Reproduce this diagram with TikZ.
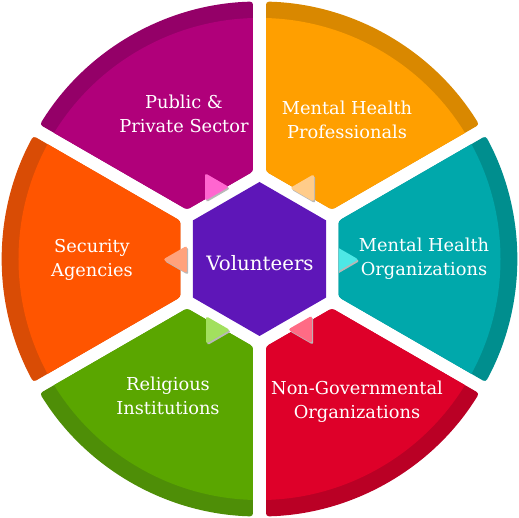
\documentclass[tikz,border=0pt]{standalone}
\usepackage{fontspec}
\setmainfont{DejaVu Serif}
\usetikzlibrary{calc}
\definecolor{pinkD}{HTML}{940068}\definecolor{pinkL}{HTML}{B0007A}
\definecolor{amberD}{HTML}{D98800}\definecolor{amberL}{HTML}{FF9F00}
\definecolor{tealD}{HTML}{008E8E}\definecolor{tealL}{HTML}{00A8AB}
\definecolor{redD}{HTML}{BA0025}\definecolor{redL}{HTML}{DE0029}
\definecolor{greenD}{HTML}{4E8E07}\definecolor{greenL}{HTML}{5AA600}
\definecolor{orangeD}{HTML}{D94C05}\definecolor{orangeL}{HTML}{FF5500}
\definecolor{hexC}{HTML}{5E16B8}
\definecolor{triPink}{HTML}{FF66D0}\definecolor{triAmber}{HTML}{FFCC8A}
\definecolor{triTeal}{HTML}{4EE8E6}\definecolor{triRed}{HTML}{FF6B85}
\definecolor{triGreen}{HTML}{A2E05E}\definecolor{triOrange}{HTML}{FFA27C}
\newcommand\segpart[3]{%
  \begin{scope}[rotate=#1]
    \begin{scope}
      \clip[rounded corners=3pt] (79,-38.1) -- (79,38.1) -- (28.55:257.5)
        arc[start angle=28.55,end angle=-28.55,radius=257.5] -- cycle;
      \fill[#2] (-300,-300) rectangle (300,300);
      \fill[#3] (0,0) circle (241);
    \end{scope}
  \end{scope}}
\newcommand\trimark[4]{%
  \fill[black!28, rounded corners=2.5pt, shift={(#1+1.2,#2-1.5)}] (#3:16) -- (#3+120:16) -- (#3+240:16) -- cycle;
  \fill[#4, rounded corners=2.5pt, shift={(#1,#2)}] (#3:16) -- (#3+120:16) -- (#3+240:16) -- cycle;}
\begin{document}
\begin{tikzpicture}[x=1pt,y=1pt,
  seglabel/.style={text=white, align=center, inner sep=0pt, font=\fontsize{17.8}{24}\selectfont},
  hublabel/.style={text=white, inner sep=0pt, font=\fontsize{19.8}{24}\selectfont}]
\useasboundingbox (-259.5,-259) rectangle (259.5,259);
\segpart{120}{pinkD}{pinkL}
\segpart{60}{amberD}{amberL}
\segpart{0}{tealD}{tealL}
\segpart{-60}{redD}{redL}
\segpart{240}{greenD}{greenL}
\segpart{180}{orangeD}{orangeL}
\fill[hexC] (90:77) -- (150:77) -- (210:77) -- (270:77) -- (330:77) -- (30:77) -- cycle;
\trimark{-46.5}{72}{0}{triPink}
\trimark{46.5}{71}{180}{triAmber}
\begin{scope}
  \clip (79.5,-40) rectangle (120,40);
  \trimark{83}{-0.5}{0}{triTeal}
\end{scope}
\trimark{-80.5}{-0.5}{180}{triOrange}
\trimark{-45.5}{-71}{0}{triGreen}
\trimark{44.5}{-70.5}{180}{triRed}
\node[hublabel] (vol) at (0.5,-4) {Volunteers};
\node[seglabel] (pps) at (-75.5,145) {Public \&\\Private Sector};
\node[seglabel] (mhp) at (87.5,139) {Mental Health\\Professionals};
\node[seglabel] (mho) at (164.5,0) {Mental Health\\Organizations};
\node[seglabel] (ngo) at (97.5,-143) {Non-Governmental\\Organizations};
\node[seglabel] (rel) at (-91.5,-137) {Religious\\Institutions};
\node[seglabel] (sec) at (-167.5,-1) {Security\\Agencies};
\end{tikzpicture}
\end{document}
